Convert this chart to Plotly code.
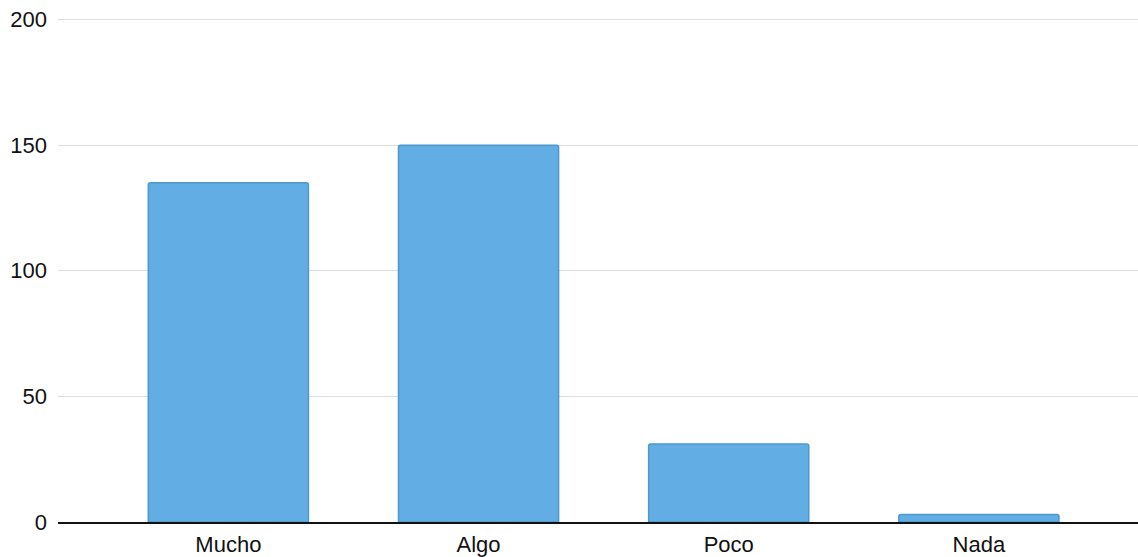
import plotly.graph_objects as go

categories = ["Mucho", "Algo", "Poco", "Nada"]
values = [135, 150, 31, 3]
y_ticks = [0, 50, 100, 150, 200]

fig = go.Figure(go.Bar(
    x=categories,
    y=values,
    width=0.64,
    marker=dict(color="#62ADE3", line=dict(color="#4E98D0", width=1.5), cornerradius=2),
))

fig.update_layout(
    width=1138, height=557,
    margin=dict(l=58, r=0, t=17, b=35, autoexpand=False),
    plot_bgcolor="white", paper_bgcolor="white",
    font=dict(family="Liberation Sans, Arial, sans-serif", size=22, color="#111111"),
    showlegend=False,
)
fig.update_xaxes(
    range=[-0.681, 3.636], automargin=False,
    showline=True, linecolor="#111111", linewidth=1.5,
    showgrid=False, ticks="", ticklabelstandoff=2,
)
fig.update_yaxes(
    range=[0, 201], tickvals=y_ticks, automargin=False,
    showgrid=True, gridcolor="#DCDCDC", gridwidth=1,
    zeroline=False, showline=False, ticks="", ticklabelstandoff=10,
)

fig.write_html(
    "out.html",
    config={"displayModeBar": False},
    post_script="document.body.style.margin='0';",
)
